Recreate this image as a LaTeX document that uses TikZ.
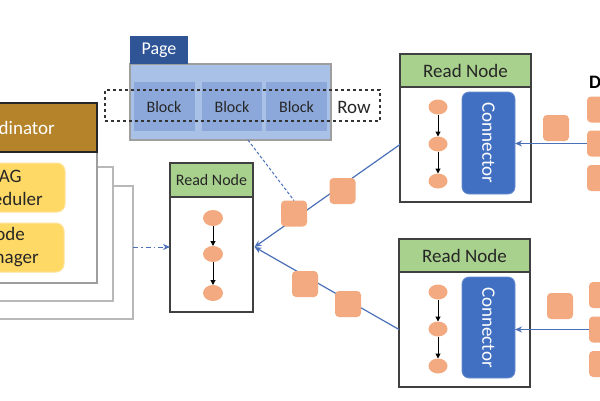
\documentclass[tikz,border=0pt]{standalone}
\usepackage{fontspec}
\setmainfont{Carlito}
\usetikzlibrary{arrows.meta,shapes.geometric,calc}
\definecolor{pagedark}{HTML}{2F5597}
\definecolor{pagelight}{HTML}{A9C1E6}
\definecolor{blockblue}{HTML}{8CA8DA}
\definecolor{coordbrown}{HTML}{B5842A}
\definecolor{dagyellow}{HTML}{FFD966}
\definecolor{dagedge}{HTML}{FFE39A}
\definecolor{rngreen}{HTML}{A9D18E}
\definecolor{nodeedge}{HTML}{404040}
\definecolor{orangepk}{HTML}{F4AA80}
\definecolor{connblue}{HTML}{4170C2}
\definecolor{linkblue}{HTML}{4A70B8}
\definecolor{txtdark}{HTML}{262626}
\begin{document}
\begin{tikzpicture}[x=1pt,y=-1pt,
  every node/.style={inner sep=0pt,outer sep=0pt},
  big/.style={font=\fontsize{19pt}{23pt}\selectfont},
  backbox/.style={draw=black!28,line width=1.3pt,fill=white},
  frontbox/.style={draw=black!38,line width=1.3pt,fill=white},
  coordhead/.style={draw=black!85,line width=1.2pt,fill=coordbrown,text=white,big},
  yellowbox/.style={draw=dagedge,line width=1pt,fill=dagyellow,rounded corners=8pt,align=center,text=txtdark,big},
  pagetab/.style={fill=pagedark,text=white,font=\fontsize{18pt}{21pt}\selectfont},
  pagebodyst/.style={draw=black!38,line width=1.4pt,fill=pagelight},
  blockst/.style={fill=blockblue,text=txtdark,font=\fontsize{16pt}{19pt}\selectfont},
  rowbox/.style={draw=black!80,dashed,line width=1.2pt},
  rnhead/.style={draw=nodeedge,line width=1.4pt,fill=rngreen,text=txtdark,big},
  rnheadsmall/.style={draw=nodeedge,line width=1.4pt,fill=rngreen,text=txtdark,font=\fontsize{16pt}{19pt}\selectfont},
  rnbody/.style={draw=nodeedge,line width=1.4pt,fill=white},
  opdot/.style={ellipse,fill=orangepk,minimum width=20pt,minimum height=16pt},
  pkt/.style={fill=orangepk,rounded corners=4pt,minimum width=26pt,minimum height=26pt},
  connbox/.style={fill=connblue,draw=connblue!80!white,line width=0.8pt,rounded corners=7pt,text=white,big},
  flowarrow/.style={draw=linkblue,line width=1.2pt,-{Stealth[length=7pt,width=6pt]}},
  blackarrow/.style={draw=black,line width=1pt,-{Triangle[length=5pt,width=5pt]}},
  dashlink/.style={draw=linkblue,line width=1pt,densely dashed},
  dashdotlink/.style={draw=linkblue,line width=1pt,dash pattern=on 5pt off 3pt on 1.5pt off 3pt,-{Stealth[length=7pt,width=6pt]}}
]
\useasboundingbox (0,0) rectangle (600,400);
\clip (0,0) rectangle (600,400);

% Coordinator stack
\node[backbox,minimum width=177pt,minimum height=133pt] (coord3) at (44.5,252.5) {};
\node[backbox,minimum width=177pt,minimum height=134pt] (coord2) at (24.5,234) {};
\node[frontbox,minimum width=177pt,minimum height=180pt] (coord1) at (8.5,193) {};
\node[coordhead,minimum width=177pt,minimum height=49pt] (coordhead) at (8.5,127.5) {Coordinator};
\node[yellowbox,minimum width=121pt,minimum height=49pt] (dag) at (4.5,187.5) {DAG\\Scheduler};
\node[yellowbox,minimum width=120pt,minimum height=49pt] (nm) at (4,247.5) {Node\\Manager};

% Page
\node[pagebodyst,minimum width=201pt,minimum height=76pt] (pagebody) at (230.5,102) {};
\node[pagetab,minimum width=58pt,minimum height=28pt] (pagetab) at (159,50) {Page};
\node[blockst,minimum width=61pt,minimum height=49pt] (b1) at (164,106.5) {Block};
\node[blockst,minimum width=60pt,minimum height=49pt] (b2) at (232,106.5) {Block};
\node[blockst,minimum width=61pt,minimum height=49pt] (b3) at (296.5,106.5) {Block};
\node[rowbox,minimum width=275pt,minimum height=31pt] (row) at (242.5,105.5) {};
\node[big,text=txtdark] (rowlabel) at (354,107) {Row};

% Middle read node
\node[rnheadsmall,minimum width=83pt,minimum height=34pt] (mhead) at (211.5,180) {Read Node};
\node[rnbody,minimum width=83pt,minimum height=115pt] (mbody) at (211.5,254.5) {};
\node[opdot] (m1) at (213,218) {};
\node[opdot] (m2) at (213,254) {};
\node[opdot] (m3) at (213,293) {};
\draw[blackarrow] (m1) -- (m2);
\draw[blackarrow] (m2) -- (m3);

% Upper right read node
\node[rnhead,minimum width=131pt,minimum height=33pt] (uhead) at (465.5,70.5) {Read Node};
\node[rnbody,minimum width=131pt,minimum height=115pt] (ubody) at (465.5,144.5) {};
\node[opdot,minimum width=19pt,minimum height=15pt] (u1) at (438,107) {};
\node[opdot,minimum width=19pt,minimum height=15pt] (u2) at (438,144) {};
\node[opdot,minimum width=19pt,minimum height=15pt] (u3) at (438,181) {};
\draw[blackarrow] (u1) -- (u2);
\draw[blackarrow] (u2) -- (u3);
\node[connbox,minimum width=53pt,minimum height=102pt] (uconn) at (488.5,143) {};
\node[big,text=white,rotate=-90] (uconnlabel) at (uconn.center) {Connector};

% Lower right read node
\node[rnhead,minimum width=131pt,minimum height=33pt] (lhead) at (464.5,255.5) {Read Node};
\node[rnbody,minimum width=131pt,minimum height=115pt] (lbody) at (464.5,329.5) {};
\node[opdot,minimum width=19pt,minimum height=15pt] (l1) at (438,292) {};
\node[opdot,minimum width=19pt,minimum height=15pt] (l2) at (438,329) {};
\node[opdot,minimum width=19pt,minimum height=15pt] (l3) at (438,366) {};
\draw[blackarrow] (l1) -- (l2);
\draw[blackarrow] (l2) -- (l3);
\node[connbox,minimum width=53pt,minimum height=101pt] (lconn) at (488.5,327.5) {};
\node[big,text=white,rotate=-90] (lconnlabel) at (lconn.center) {Connector};

% Data source
\node[anchor=base west,text=black,font=\fontsize{19pt}{23pt}\selectfont\bfseries] (dslabel) at (589,88) {Data Source};
\node[pkt] (ds1) at (600,109.5) {};
\node[pkt] (ds2) at (600,143.5) {};
\node[pkt] (ds3) at (600,178) {};
\node[pkt] (ds4) at (602,295) {};
\node[pkt] (ds5) at (602,329.5) {};
\node[pkt] (ds6) at (602,364) {};

% connections
\coordinate (tip) at (254.5,247);
\draw[flowarrow] (ubody.west) -- (tip);
\draw[flowarrow] (lbody.west) -- (tip);
\draw[flowarrow] (ds2.west) -- (ds2.west -| uconn.east);
\draw[flowarrow] (ds5.west) -- (ds5.west -| lconn.east);
\draw[dashdotlink] (coord3.east |- 0,247) -- (mbody.west |- 0,247);

% packets
\node[pkt] (p1) at (294,213.5) {};
\node[pkt] (p2) at (342.5,191) {};
\node[pkt] (p3) at (305,284) {};
\node[pkt] (p4) at (348,304) {};
\node[pkt] (p5) at (556,128) {};
\node[pkt] (p6) at (560,306) {};

\draw[dashlink] ($(pagebody.south west)!0.587!(pagebody.south east)$) -- (p1.north);
\end{tikzpicture}
\end{document}
